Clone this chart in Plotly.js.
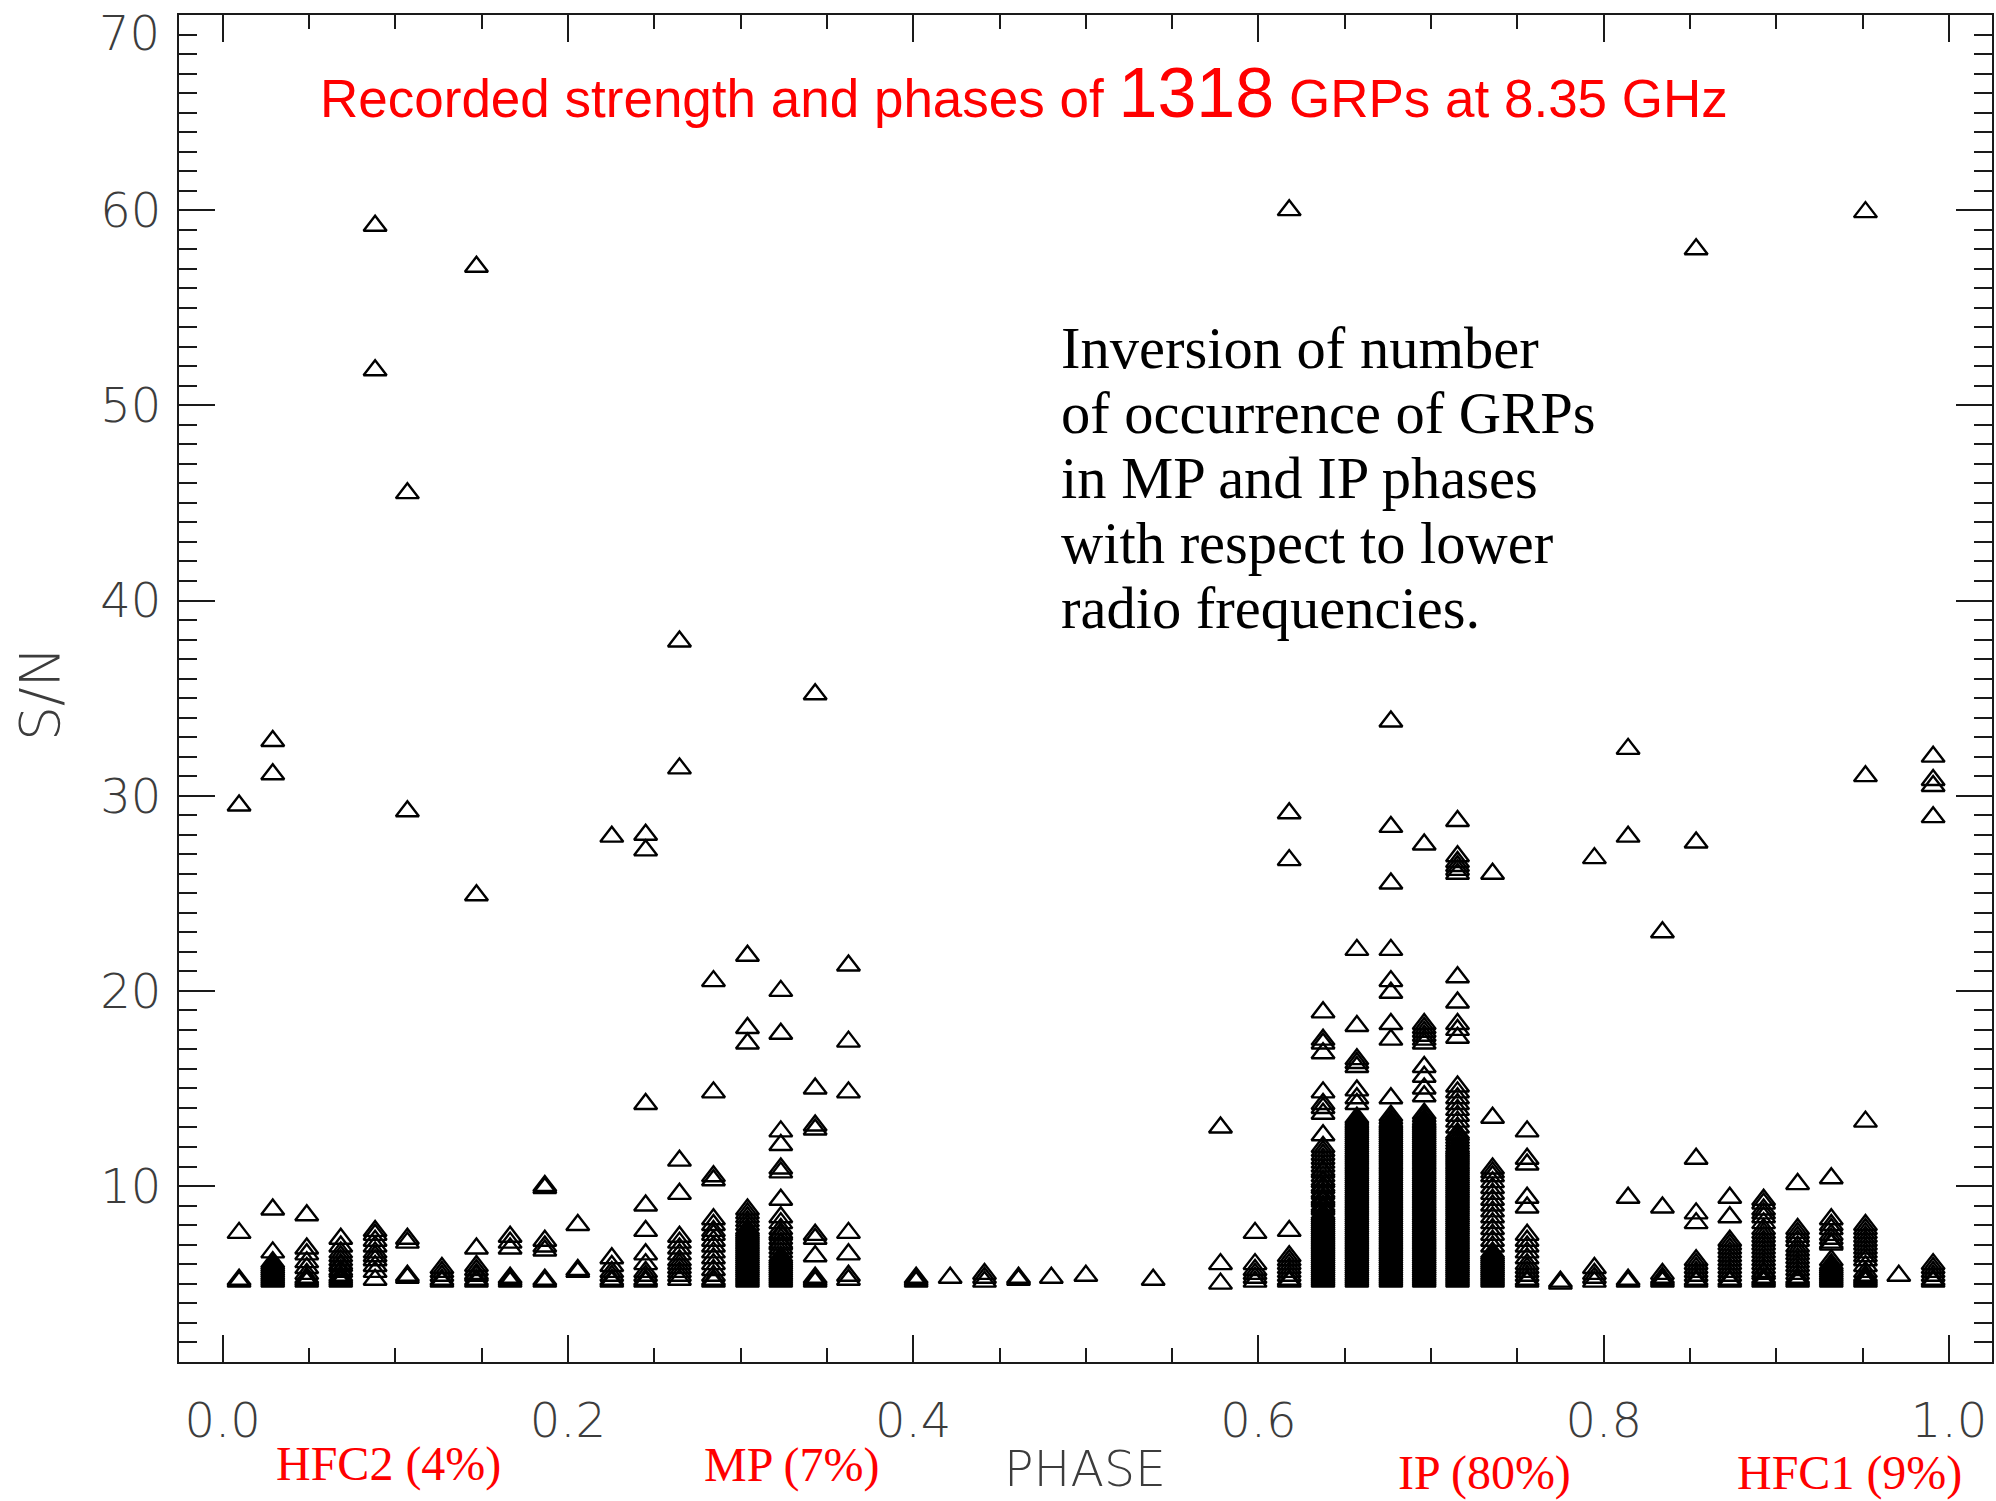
<!DOCTYPE html>
<html>
<head>
<meta charset="utf-8">
<script src="https://cdn.plot.ly/plotly-3.0.1.min.js"></script>
<style>
html,body{margin:0;padding:0;background:#fff;overflow:hidden;}
#chart{width:1996px;height:1501px;}
</style>
</head>
<body>
<div id="chart"></div>
<script>
// ---- DATA: S/N of each recorded giant radio pulse, grouped by phase bin ----
const hfc2Phase = [0.0095,0.029,0.0487,0.0684,0.0883,0.107,0.127,0.147,0.1665,0.1866,0.2057,0.2254];
const hfc2SN = [
  [5.1,5.2,7.6,29.5],
  [5.1,5.2,5.3,5.4,5.5,5.6,5.7,5.8,5.9,6.0,6.1,6.6,8.8,31.1,32.8],
  [5.1,5.2,5.3,5.5,5.8,6.1,6.5,6.8,8.5],
  [5.1,5.2,5.3,5.4,5.6,5.7,5.9,6.0,6.2,6.4,6.6,6.9,7.3],
  [5.2,5.6,5.9,6.2,6.4,6.6,6.9,7.2,7.5,7.7,51.8,59.2],
  [5.3,5.4,7.1,7.3,29.2,45.5],
  [5.1,5.2,5.4,5.6,5.8],
  [5.1,5.2,5.4,5.5,5.7,5.9,6.8,24.9,57.1],
  [5.1,5.2,5.3,6.8,7.1,7.4],
  [5.1,5.2,6.7,6.9,7.2,9.9,10.0],
  [5.6,5.7,8.0],
  [5.1,5.2,5.4,5.6,5.9,6.3,27.9]
];
const mpPhase = [0.245,0.2646,0.2843,0.304,0.3233,0.3432,0.3625];
const mpSN = [
  [5.1,5.2,5.4,5.6,6.0,6.5,7.7,9.0,14.2,27.2,28.0],
  [5.2,5.4,5.6,5.8,6.0,6.2,6.5,6.8,7.1,7.4,9.6,11.3,31.4,37.9],
  [5.1,5.2,5.4,5.7,6.0,6.3,6.6,6.9,7.2,7.5,7.7,8.0,8.3,10.3,10.5,14.8,20.5],
  [5.1,5.2,5.3,5.4,5.5,5.6,5.7,5.8,5.9,6.0,6.1,6.2,6.3,6.4,6.5,6.6,6.7,6.8,6.9,7.0,7.1,7.2,7.3,7.4,7.5,7.6,7.7,7.8,8.0,8.2,8.4,8.6,8.8,17.3,18.1,21.8],
  [5.1,5.2,5.3,5.4,5.5,5.6,5.7,5.8,5.9,6.0,6.1,6.2,6.3,6.4,6.6,6.8,7.0,7.1,7.3,7.5,7.6,7.8,8.1,8.4,9.3,10.7,10.9,12.1,12.8,17.8,20.0],
  [5.1,5.2,5.3,6.4,7.3,7.5,12.9,13.1,15.0,35.2],
  [5.2,5.4,6.5,7.6,14.8,17.4,21.3]
];
const bridgePhase = [0.4017,0.4214,0.4413,0.461,0.480,0.500,0.539,0.578,0.598];
const bridgeSN = [
  [5.1,5.2,5.3],[5.3],[5.1,5.3,5.5],[5.2,5.3],[5.3],[5.4],[5.2],
  [5.0,6.0,13.0],
  [5.1,5.3,5.5,5.7,6.0,7.6]
];
const ipPhase = [0.6178,0.6374,0.657,0.6767,0.696,0.7153,0.7356,0.7556,0.7749,0.7946];
const ipSN = [
  [5.1,5.2,5.4,5.6,5.8,6.0,6.2,6.4,7.7,26.7,29.1,60.0],
  [5.1,5.2,5.3,5.4,5.5,5.6,5.7,5.8,5.9,6.0,6.1,6.2,6.3,6.4,6.5,6.6,6.7,6.8,6.9,7.0,7.1,7.2,7.3,7.4,7.5,7.6,7.7,7.8,7.9,8.0,8.1,8.2,8.3,8.4,8.5,8.6,8.8,8.9,9.0,9.2,9.3,9.4,9.6,9.7,9.9,10.0,10.2,10.3,10.5,10.7,10.8,11.0,11.2,11.4,11.6,11.8,12.0,12.6,13.7,14.0,14.2,14.8,16.8,17.3,17.5,18.9],
  [5.1,5.2,5.3,5.4,5.5,5.6,5.7,5.8,5.9,6.0,6.1,6.2,6.3,6.4,6.5,6.6,6.7,6.8,6.9,7.0,7.1,7.2,7.3,7.4,7.5,7.6,7.7,7.8,7.9,8.0,8.1,8.2,8.3,8.4,8.5,8.6,8.7,8.8,8.9,9.0,9.1,9.2,9.3,9.4,9.5,9.6,9.7,9.8,9.9,10.0,10.1,10.2,10.3,10.4,10.5,10.6,10.7,10.8,10.9,11.0,11.1,11.2,11.3,11.4,11.5,11.6,11.7,11.8,11.9,12.0,12.1,12.2,12.3,12.4,12.5,12.6,12.7,12.8,12.9,13.0,13.1,13.2,13.3,13.4,13.5,14.2,14.5,14.9,16.1,16.3,16.5,18.2,22.1],
  [5.1,5.2,5.3,5.4,5.5,5.6,5.7,5.8,5.9,6.0,6.1,6.2,6.3,6.4,6.5,6.6,6.7,6.8,6.9,7.0,7.1,7.2,7.3,7.4,7.5,7.6,7.7,7.8,7.9,8.0,8.1,8.2,8.3,8.4,8.5,8.6,8.7,8.8,8.9,9.0,9.1,9.2,9.3,9.4,9.5,9.6,9.7,9.8,9.9,10.0,10.1,10.2,10.3,10.4,10.5,10.6,10.7,10.8,10.9,11.0,11.1,11.2,11.3,11.4,11.5,11.6,11.7,11.8,11.9,12.0,12.1,12.2,12.3,12.4,12.5,12.6,12.7,12.8,12.9,13.0,13.1,13.2,13.3,13.45,13.6,14.5,17.5,18.3,19.9,20.5,22.1,25.5,28.4,33.8],
  [5.1,5.2,5.3,5.4,5.5,5.6,5.7,5.8,5.9,6.0,6.1,6.2,6.3,6.4,6.5,6.6,6.7,6.8,6.9,7.0,7.1,7.2,7.3,7.4,7.5,7.6,7.7,7.8,7.9,8.0,8.1,8.2,8.3,8.4,8.5,8.6,8.7,8.8,8.9,9.0,9.1,9.2,9.3,9.4,9.5,9.6,9.7,9.8,9.9,10.0,10.1,10.2,10.3,10.4,10.5,10.6,10.7,10.8,10.9,11.0,11.1,11.2,11.3,11.4,11.5,11.6,11.7,11.8,11.9,12.0,12.1,12.2,12.3,12.4,12.5,12.6,12.7,12.8,12.9,13.0,13.1,13.2,13.3,13.4,13.55,13.7,14.6,15.0,15.6,16.1,17.3,17.5,17.7,17.9,18.1,18.3,27.5],
  [5.1,5.2,5.3,5.4,5.5,5.6,5.7,5.8,5.9,6.0,6.1,6.2,6.3,6.4,6.5,6.6,6.7,6.8,6.9,7.0,7.1,7.2,7.3,7.4,7.5,7.6,7.7,7.8,7.9,8.0,8.1,8.2,8.3,8.4,8.5,8.6,8.7,8.8,8.9,9.0,9.1,9.2,9.3,9.4,9.5,9.6,9.7,9.8,9.9,10.0,10.1,10.2,10.3,10.4,10.5,10.6,10.7,10.8,10.9,11.0,11.1,11.2,11.3,11.4,11.5,11.6,11.7,11.8,11.9,12.0,12.15,12.3,12.45,12.6,12.7,13.0,13.3,13.6,13.9,14.2,14.5,14.8,15.1,17.6,18.0,18.3,19.4,20.7,26.0,26.2,26.4,26.6,26.9,28.7],
  [5.1,5.2,5.3,5.4,5.5,5.6,5.7,5.8,5.9,6.0,6.1,6.2,6.3,6.4,6.5,6.6,6.9,7.2,7.5,7.8,8.1,8.4,8.7,9.0,9.3,9.6,9.9,10.2,10.5,10.7,10.9,13.5,26.0],
  [5.1,5.2,5.4,5.6,5.8,6.0,6.3,6.6,6.9,7.2,7.5,8.9,9.4,11.1,11.4,12.8],
  [5.0,5.1],
  [5.1,5.3,5.5,5.8,26.8]
];
const hfc1Phase = [0.8141,0.834,0.8535,0.873,0.8926,0.9123,0.9318,0.9516,0.9709,0.9908];
const hfc1SN = [
  [5.1,5.2,9.4,27.9,32.4],
  [5.1,5.2,5.3,5.5,8.9,23.0],
  [5.1,5.2,5.4,5.6,5.8,6.0,6.2,8.1,8.6,11.4,27.6,58.0],
  [5.1,5.2,5.4,5.6,5.8,6.0,6.2,6.4,6.6,6.8,7.0,7.2,8.4,9.4],
  [5.1,5.2,5.3,5.5,5.6,5.8,6.0,6.2,6.4,6.6,6.8,7.0,7.2,7.4,7.6,7.8,8.1,8.4,8.6,8.8,9.1,9.3],
  [5.1,5.2,5.3,5.5,5.7,5.9,6.1,6.3,6.5,6.7,6.9,7.2,7.4,7.6,7.8,10.1],
  [5.1,5.2,5.3,5.4,5.5,5.6,5.7,5.8,5.9,6.0,6.2,7.0,7.1,7.3,7.5,7.8,8.0,8.3,10.4],
  [5.1,5.2,5.3,5.4,5.6,5.9,6.2,6.4,6.6,6.8,7.0,7.2,7.4,7.6,7.8,8.0,13.3,31.0,59.9],
  [5.4],
  [5.1,5.2,5.4,5.6,5.8,6.0,28.9,30.5,30.8,32.0]
];
const xTickVals = [0, 0.2, 0.4, 0.6, 0.8, 1.0];
const xTickText = ["0.0", "0.2", "0.4", "0.6", "0.8", "1.0"];
const yTickVals = [10, 20, 30, 40, 50, 60, 70];
const yTickText = ["10", "20", "30", "40", "50", "60", ""];
const yTopLabel = "70";
const xTitle = "PHASE";
const yTitle = "S/N";

// ---- build points ----
const xs = [], ys = [];
function addCols(ph, sn) {
  ph.forEach((p, i) => sn[i].forEach(v => { xs.push(p); ys.push(v); }));
}
addCols(hfc2Phase, hfc2SN);
addCols(mpPhase, mpSN);
addCols(bridgePhase, bridgeSN);
addCols(ipPhase, ipSN);
addCols(hfc1Phase, hfc1SN);

// pixel helpers for text placement (plot area: x 179..1992, y 15..1362)
const PL = 179, PR = 1992, PT = 15, PB = 1362;
const px = x => (x - PL) / (PR - PL);
const py = y => (PB - y) / (PB - PT);

const tickFont = {family: "DejaVu Sans", size: 48, color: "#3c3c3c", weight: 200};
const titleFont = {family: "DejaVu Sans", size: 49, color: "#3c3c3c", weight: 200};
const serif = "Liberation Serif, Times New Roman, serif";

const annotations = [];
function ann(text, x, y, font, xanchor, yanchor, angle) {
  annotations.push({text, x: px(x), y: py(y), xref: "paper", yref: "paper",
    xanchor, yanchor, showarrow: false, font, borderpad: 0, textangle: angle || 0});
}
// top y tick label, kept inside the picture as in the original
ann(yTopLabel, 161, 33, tickFont, "right", "middle");
// axis titles
ann(xTitle, 1085, 1469, titleFont, "center", "middle");
ann(yTitle, 40, 694, Object.assign({}, titleFont, {size: 55}), "center", "middle", -90);
// red title
ann('Recorded strength and phases of <span style="font-size:70px">1318</span> GRPs at 8.35 GHz',
    319, 133, {family: "Liberation Sans, Arial, sans-serif", size: 53, color: "#ff0000"}, "left", "bottom");
// black note
const noteLines = ["Inversion of number", "of occurrence of GRPs", "in MP and IP phases", "with respect to lower", "radio frequencies."];
const noteBase = [369, 434, 499, 564, 629];
noteLines.forEach((t, i) => ann(t, 1060, noteBase[i] + 13, {family: serif, size: 58.5, color: "#000"}, "left", "bottom"));
// red region labels
const regionLabels = ["HFC2 (4%)", "MP (7%)", "IP (80%)", "HFC1 (9%)"];
const regionX = [388, 792, 1484, 1849];
const regionBase = [1481, 1482, 1490, 1490];
regionLabels.forEach((t, i) => ann(t, regionX[i], regionBase[i] + 11, {family: serif, size: 48, color: "#ff0000"}, "center", "bottom"));

const data = [{
  type: "scatter", mode: "markers", x: xs, y: ys,
  marker: {symbol: "triangle-up-open", size: 20, color: "#000", line: {width: 2.4, color: "#000"}},
  hoverinfo: "x+y", cliponaxis: true
}];

const axisCommon = {
  showline: true, linecolor: "#1a1a1a", linewidth: 2, mirror: "allticks",
  ticks: "inside", tickcolor: "#1a1a1a", tickwidth: 2,
  showgrid: false, zeroline: false, tickfont: tickFont, automargin: false
};

const layout = {
  width: 1996, height: 1501,
  margin: {l: PL, r: 1996 - PR, t: PT, b: 1501 - PB, pad: 0},
  paper_bgcolor: "#fff", plot_bgcolor: "#fff",
  showlegend: false,
  xaxis: Object.assign({}, axisCommon, {
    range: [-0.0253, 1.0249], tickmode: "array", tickvals: xTickVals, ticktext: xTickText,
    ticklen: 27, ticklabelstandoff: 15,
    minor: {dtick: 0.05, tick0: 0, ticklen: 14, tickwidth: 2, tickcolor: "#1a1a1a", ticks: "inside"}
  }),
  yaxis: Object.assign({}, axisCommon, {
    range: [0.984, 70], tickmode: "array", tickvals: yTickVals, ticktext: yTickText,
    ticklen: 36, ticklabelstandoff: 6,
    minor: {dtick: 1, tick0: 0, ticklen: 18, tickwidth: 2, tickcolor: "#1a1a1a", ticks: "inside"}
  }),
  annotations: annotations
};

Plotly.newPlot("chart", data, layout, {staticPlot: true, displayModeBar: false});
</script>
</body>
</html>
